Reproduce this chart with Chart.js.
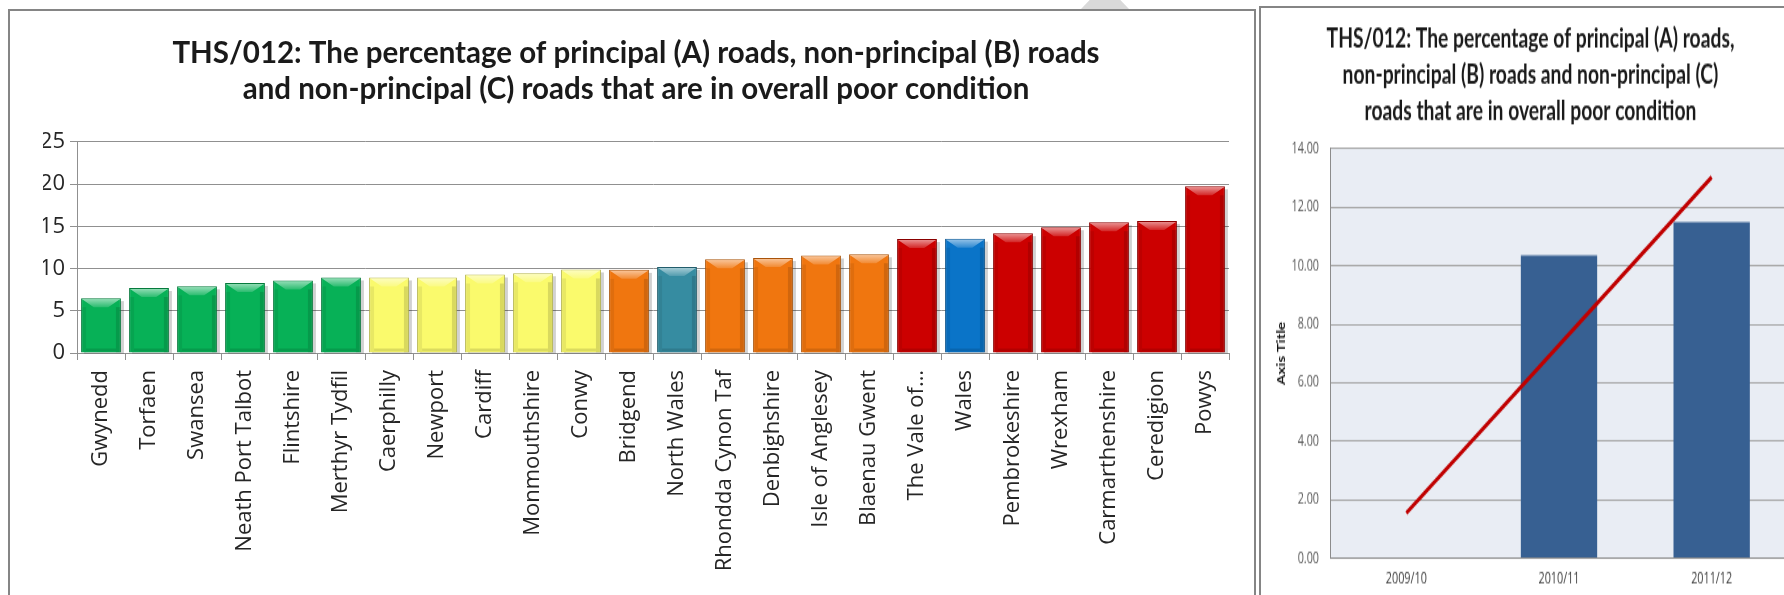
<!DOCTYPE html>
<html lang="en">
<head>
  <meta charset="UTF-8" />
  <title>THS/012 road condition</title>
  <script src="https://cdn.jsdelivr.net/npm/chart.js"></script>
  <style>
    html, body { margin: 0; padding: 0; background: #fff; width: 1784px; height: 595px; overflow: hidden; }
    #stage { position: relative; width: 1784px; height: 595px; overflow: hidden; }
    .frame { position: absolute; border: 2px solid #858585; pointer-events: none; z-index: 3; }
    #tab { position: absolute; left: 1081px; top: -16px; width: 48px; height: 25px; background: #d9d9d9;
           clip-path: polygon(50% 0, 100% 100%, 0 100%); }
    #leftBox { position: absolute; left: 0; top: 0; width: 1262px; height: 595px; }
    #rightBox { position: absolute; left: 1260px; top: 7px; width: 540px; height: 406px;
                transform: scaleY(1.4483); transform-origin: 0 0; }
  </style>
</head>
<body>
  <div id="stage">
    <div id="tab"></div>
    <div id="leftBox"><canvas id="areas" width="1262" height="595"></canvas></div>
    <div id="rightBox"><canvas id="trend" width="540" height="406"></canvas></div>
    <div class="frame" style="left:8px; top:9px; width:1244px; height:700px;"></div>
    <div class="frame" style="left:1259px; top:6px; width:700px; height:700px;"></div>
  </div>

  <script>
    // --- left chart: authorities ranked ---
    const areas = ['Gwynedd', 'Torfaen', 'Swansea', 'Neath Port Talbot', 'Flintshire', 'Merthyr Tydfil',
      'Caerphilly', 'Newport', 'Cardiff', 'Monmouthshire', 'Conwy', 'Bridgend', 'North Wales',
      'Rhondda Cynon Taf', 'Denbighshire', 'Isle of Anglesey', 'Blaenau Gwent', 'The Vale of…',
      'Wales', 'Pembrokeshire', 'Wrexham', 'Carmarthenshire', 'Ceredigion', 'Powys'];
    const poorPct = [6.5, 7.7, 7.9, 8.3, 8.6, 8.95, 8.95, 8.95, 9.3, 9.45, 9.9, 9.85, 10.2,
      11.1, 11.25, 11.55, 11.7, 13.5, 13.55, 14.2, 14.9, 15.5, 15.65, 19.75];
    const areaTicks = [0, 5, 10, 15, 20, 25];

    // --- right chart: Wales over time ---
    const years = ['2009/10', '2010/11', '2011/12'];
    const walesPct = [0, 10.35, 11.5];
    const trendPct = [1.54, 7.28, 13.03];

    const GREEN = '#07b157', YELLOW = '#fafa6c', ORANGE = '#f0760f', TEAL = '#368ca1',
          RED = '#cc0000', BLUE = '#0a74c8';
    const barColours = [GREEN, GREEN, GREEN, GREEN, GREEN, GREEN, YELLOW, YELLOW, YELLOW, YELLOW, YELLOW,
      ORANGE, TEAL, ORANGE, ORANGE, ORANGE, ORANGE, RED, BLUE, RED, RED, RED, RED, RED];
    const barEdges = barColours.map(c => ({ [GREEN]: '#067a3c', [YELLOW]: '#b5b54a', [ORANGE]: '#a9530a',
      [TEAL]: '#225d6c', [RED]: '#8a0000', [BLUE]: '#07508a' })[c]);

    const SANS = "'Open Sans', sans-serif";
    const TITLE = "Lato, 'Open Sans', sans-serif";

    // 3D-ish bevel on each bar, like the office chart style
    const bevel = {
      id: 'bevel',
      beforeDatasetsDraw(chart) {
        const ctx = chart.ctx;
        chart.getDatasetMeta(0).data.forEach(bar => {
          const { x, y, base, width } = bar.getProps(['x', 'y', 'base', 'width'], true);
          ctx.save();
          ctx.fillStyle = 'rgba(0,0,0,0.18)';
          ctx.fillRect(x - width / 2 + 3, y + 3, width, base - y - 2);
          ctx.restore();
        });
      },
      afterDatasetsDraw(chart) {
        const ctx = chart.ctx;
        chart.getDatasetMeta(0).data.forEach(bar => {
          const { x, y, base, width } = bar.getProps(['x', 'y', 'base', 'width'], true);
          const l = x - width / 2 + 1, r = x + width / 2 - 1, h = base - y;
          const b = Math.min(9, h / 3);
          ctx.save();
          const g = ctx.createLinearGradient(0, y, 0, y + b);
          g.addColorStop(0, 'rgba(255,255,255,0.6)');
          g.addColorStop(1, 'rgba(255,255,255,0.15)');
          ctx.fillStyle = g;
          ctx.beginPath();
          ctx.moveTo(l, y + 1); ctx.lineTo(r, y + 1);
          ctx.lineTo(r - b * 1.3, y + b); ctx.lineTo(l + b * 1.3, y + b);
          ctx.closePath(); ctx.fill();
          ctx.fillStyle = 'rgba(0,0,0,0.07)';
          ctx.fillRect(l, y + b, 4, h - b);
          ctx.fillStyle = 'rgba(0,0,0,0.13)';
          ctx.fillRect(r - 4, y + b, 4, h - b);
          ctx.fillStyle = 'rgba(0,0,0,0.12)';
          ctx.fillRect(l + 4, base - 4, r - l - 8, 3);
          ctx.restore();
        });
      }
    };

    new Chart(document.getElementById('areas'), {
      type: 'bar',
      data: {
        labels: areas,
        datasets: [{
          data: poorPct,
          backgroundColor: barColours,
          borderColor: barEdges,
          borderWidth: 1,
          barPercentage: 0.83,
          categoryPercentage: 1
        }]
      },
      options: {
        responsive: false,
        animation: false,
        layout: { padding: { left: 43, right: 33, top: 0, bottom: 0 } },
        plugins: {
          legend: { display: false },
          tooltip: { enabled: false },
          title: {
            display: true,
            text: ['THS/012: The percentage of principal (A) roads, non-principal (B) roads',
                   'and non-principal (C) roads that are in overall poor condition'],
            color: '#1a1a1a',
            font: { family: TITLE, size: 29.5, weight: 'bold', lineHeight: 1.22 },
            padding: { top: 35, bottom: 35 }
          }
        },
        scales: {
          x: {
            offset: true,
            grid: { drawOnChartArea: false, tickLength: 7, color: '#909090', offset: true },
            border: { color: '#909090' },
            ticks: { autoSkip: false, minRotation: 90, maxRotation: 90, padding: 10, color: '#262626',
                     font: { family: SANS, size: 22 } },
            afterFit: s => { s.height = 242; }
          },
          y: {
            min: areaTicks[0],
            max: areaTicks[areaTicks.length - 1],
            afterBuildTicks: s => { s.ticks = areaTicks.map(v => ({ value: v })); },
            grid: { color: '#909090', tickLength: 7 },
            border: { color: '#909090' },
            ticks: { padding: 5, color: '#262626', font: { family: SANS, size: 22 } },
            afterFit: s => { s.width = 34; }
          }
        }
      },
      plugins: [bevel]
    });

    const plotBg = {
      id: 'plotBg',
      beforeDraw(chart) {
        const { ctx, chartArea: a } = chart;
        ctx.save();
        ctx.fillStyle = '#e9edf4';
        ctx.fillRect(a.left, a.top, a.width, a.height);
        ctx.restore();
      }
    };

    new Chart(document.getElementById('trend'), {
      type: 'bar',
      data: {
        labels: years,
        datasets: [
          {
            type: 'line',
            data: trendPct,
            borderColor: '#c00000',
            borderWidth: 3,
            pointRadius: 0,
            order: 1
          },
          {
            data: walesPct,
            backgroundColor: '#376092',
            barPercentage: 0.5,
            categoryPercentage: 1,
            order: 2
          }
        ]
      },
      options: {
        responsive: false,
        animation: false,
        layout: { padding: { left: 13, right: 12, top: 0, bottom: 0 } },
        plugins: {
          legend: { display: false },
          tooltip: { enabled: false },
          title: {
            display: true,
            text: ['THS/012: The percentage of principal (A) roads,',
                   'non-principal (B) roads and non-principal (C)',
                   'roads that are in overall poor condition'],
            color: '#1a1a1a',
            font: { family: TITLE, size: 19.3, weight: 'bold', lineHeight: 1.306 },
            padding: { top: 9.2, bottom: 13.1 }
          }
        },
        scales: {
          x: {
            grid: { display: false, drawTicks: false },
            border: { color: '#8c8c8c' },
            ticks: { padding: 8, color: '#404040', font: { family: SANS, size: 10.8 } },
            afterFit: s => { s.height = 25.5; }
          },
          y: {
            min: 0,
            max: 14,
            grid: { color: '#a6a6a6', drawTicks: false },
            border: { color: '#8c8c8c' },
            ticks: { stepSize: 2, padding: 11, color: '#595959', callback: v => v.toFixed(2),
                     font: { family: SANS, size: 10.8 } },
            title: { display: true, text: 'Axis Title', color: '#111',
                     font: { family: TITLE, size: 10.5, weight: 'bold' }, padding: { top: 2, bottom: 0 } },
            afterFit: s => { s.width = 57; }
          }
        }
      },
      plugins: [plotBg]
    });
  </script>
</body>
</html>
